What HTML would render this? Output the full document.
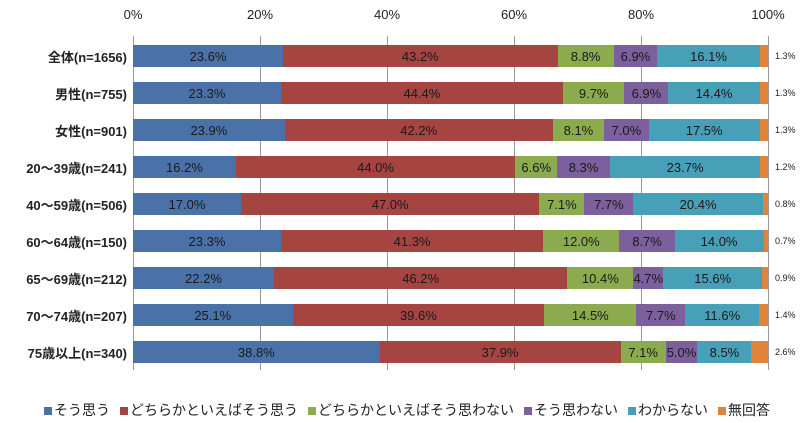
<!DOCTYPE html><html><head><meta charset="utf-8"><style>
body{margin:0;background:#fff;width:805px;height:423px;position:relative;overflow:hidden;font-family:"Liberation Sans","Noto Sans CJK JP",sans-serif;color:#222}
.t{position:absolute;top:7px;font-size:13px;transform:translateX(-50%)}
.g{position:absolute;top:36px;height:334px;width:1px;background:#999}
.lab{position:absolute;right:678px;font-size:13px;font-weight:bold;white-space:nowrap}
.bar{position:absolute;left:133px;height:22px;display:flex;width:635px}
.bar div{height:100%;display:flex;align-items:center;justify-content:center;font-size:13px;color:#1a1a1a;overflow:visible;white-space:nowrap;box-sizing:border-box}
.r{position:absolute;left:775px;font-size:9px}
.lg{position:absolute;top:400px;left:44px;font-size:14px;display:flex;gap:10px;white-space:nowrap}
.lg span i{display:inline-block;width:8px;height:8px;margin-right:2px}
</style></head><body>
<div class="t" style="left:133px">0%</div><div class="t" style="left:260px">20%</div><div class="t" style="left:387px">40%</div><div class="t" style="left:514px">60%</div><div class="t" style="left:641px">80%</div><div class="t" style="left:768px">100%</div>
<div class="g" style="left:133px"></div><div class="g" style="left:260px"></div><div class="g" style="left:387px"></div><div class="g" style="left:514px"></div><div class="g" style="left:641px"></div><div class="g" style="left:768px"></div>
<div id="c"></div>
<div class="lg"><span><i style="background:#4a72a8"></i>そう思う</span><span><i style="background:#a64442"></i>どちらかといえばそう思う</span><span><i style="background:#8cab4e"></i>どちらかといえばそう思わない</span><span><i style="background:#7c5f9d"></i>そう思わない</span><span><i style="background:#47a0b7"></i>わからない</span><span><i style="background:#e0843c"></i>無回答</span></div>
<script>
const rows=[["全体(n=1656)",[23.6,43.2,8.8,6.9,16.1,1.3]],["男性(n=755)",[23.3,44.4,9.7,6.9,14.4,1.3]],["女性(n=901)",[23.9,42.2,8.1,7.0,17.5,1.3]],["20～39歳(n=241)",[16.2,44.0,6.6,8.3,23.7,1.2]],["40～59歳(n=506)",[17.0,47.0,7.1,7.7,20.4,0.8]],["60～64歳(n=150)",[23.3,41.3,12.0,8.7,14.0,0.7]],["65～69歳(n=212)",[22.2,46.2,10.4,4.7,15.6,0.9]],["70～74歳(n=207)",[25.1,39.6,14.5,7.7,11.6,1.4]],["75歳以上(n=340)",[38.8,37.9,7.1,5.0,8.5,2.6]]];
const cols=["#4a72a8","#a64442","#8cab4e","#7c5f9d","#47a0b7","#e0843c"];
let h="";rows.forEach((r,i)=>{const top=45+37*i;const s=r[1].reduce((a,b)=>a+b,0);
h+=`<div class="lab" style="top:${top+2}px">${r[0]}</div><div class="bar" style="top:${top}px">`;
r[1].forEach((v,j)=>{h+=`<div style="width:${v/s*100}%;background:${cols[j]}">${j<5?v.toFixed(1)+"%":""}</div>`});
h+=`</div><div class="r" style="top:${top+6}px">${r[1][5].toFixed(1)}%</div>`;});
document.getElementById("c").innerHTML=h;
</script></body></html>
